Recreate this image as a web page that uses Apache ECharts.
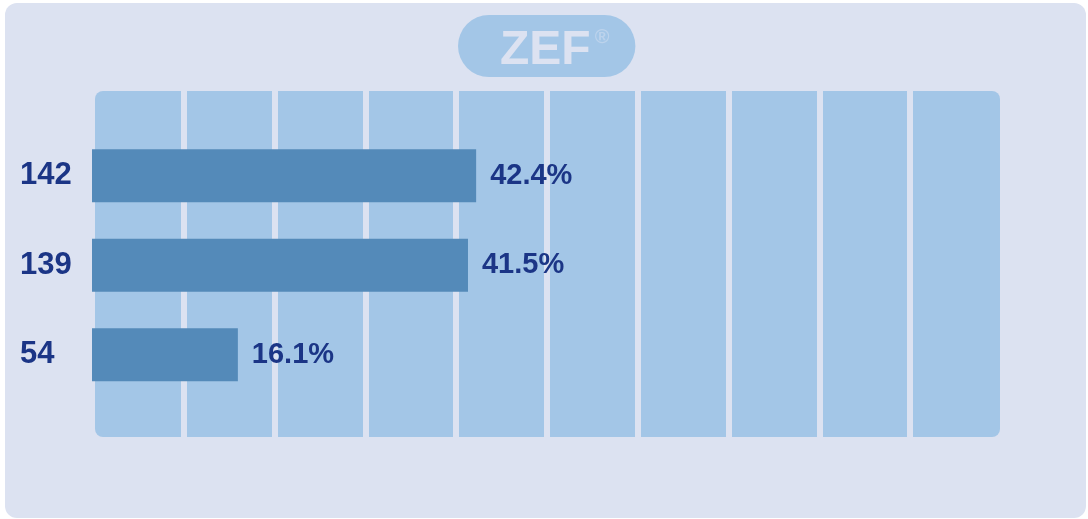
<!DOCTYPE html>
<html>
<head>
<meta charset="utf-8">
<script src="https://cdn.jsdelivr.net/npm/echarts@6/dist/echarts.min.js"></script>
<style>
  html, body { margin: 0; padding: 0; background: #fff; }
  #myCanvas { width: 1088px; height: 519px; }
</style>
</head>
<body>
<div id="myCanvas"></div>
<script>
// data
var counts = ['142', '139', '54'];
var percents = [42.4, 41.5, 16.1];
var xTicks = [0, 10, 20, 30, 40, 50, 60, 70, 80, 90, 100];

var lavender = '#dce2f1';
var lightBlue = '#a3c6e7';
var barBlue = '#548ab9';
var navy = '#1b3586';

var myChart = echarts.init(document.getElementById('myCanvas'));
var option = {
    backgroundColor: '#fff',
    animation: false,
    title: {
        left: 458,
        top: 15,
        text: 'ZEF{r|®}',
        padding: [12, 26, 2, 42],
        backgroundColor: lightBlue,
        borderRadius: 31,
        textStyle: {
            fontFamily: 'Liberation Sans',
            fontSize: 48,
            fontWeight: 'bold',
            lineHeight: 48,
            color: lavender,
            rich: {
                r: {
                    fontFamily: 'Liberation Sans',
                    fontSize: 20,
                    fontWeight: 'bold',
                    color: '#bcd3ec',
                    verticalAlign: 'top',
                    lineHeight: 48,
                    padding: [0, 0, 22, 4]
                }
            }
        }
    },
    graphic: [
        {
            type: 'rect', z: -10, silent: true,
            shape: { x: 5, y: 3, width: 1081, height: 515, r: 12 },
            style: { fill: lavender }
        },
        {
            type: 'rect', z: -9, silent: true,
            shape: { x: 95, y: 91, width: 905, height: 346, r: 8 },
            style: { fill: lightBlue }
        }
    ],
    grid: [
        // column separators across the whole plot panel
        { left: 93, right: 87, top: 91, bottom: 82 },
        // bars
        { left: 92, right: 90, top: 131, height: 268.5 }
    ],
    xAxis: [
        {
            gridIndex: 0,
            type: 'value',
            min: xTicks[0],
            max: xTicks[xTicks.length - 1],
            interval: 10,
            axisLine: { show: false },
            axisTick: { show: false },
            axisLabel: { show: false },
            splitLine: {
                show: true,
                showMinLine: false,
                showMaxLine: false,
                lineStyle: { color: lavender, width: 6 }
            }
        },
        {
            gridIndex: 1,
            type: 'value',
            min: 0,
            max: 100,
            show: false,
            splitLine: { show: false }
        }
    ],
    yAxis: [
        {
            gridIndex: 0,
            type: 'value',
            show: false,
            splitLine: { show: false }
        },
        {
            gridIndex: 1,
            type: 'category',
            inverse: true,
            data: counts,
            axisLine: { show: false },
            axisTick: { show: false },
            axisLabel: {
                align: 'left',
                margin: 72,
                fontFamily: 'Liberation Sans',
                fontSize: 31,
                fontWeight: 'bold',
                color: navy
            }
        }
    ],
    series: [
        {
            type: 'bar',
            xAxisIndex: 1,
            yAxisIndex: 1,
            barWidth: 53,
            data: percents,
            itemStyle: { color: barBlue },
            label: {
                show: true,
                position: 'right',
                distance: 14,
                formatter: function (p) { return p.value.toFixed(1) + '%'; },
                fontFamily: 'Liberation Sans',
                fontSize: 29,
                fontWeight: 'bold',
                color: navy
            }
        }
    ]
};

myChart.setOption(option);
</script>
</body>
</html>
